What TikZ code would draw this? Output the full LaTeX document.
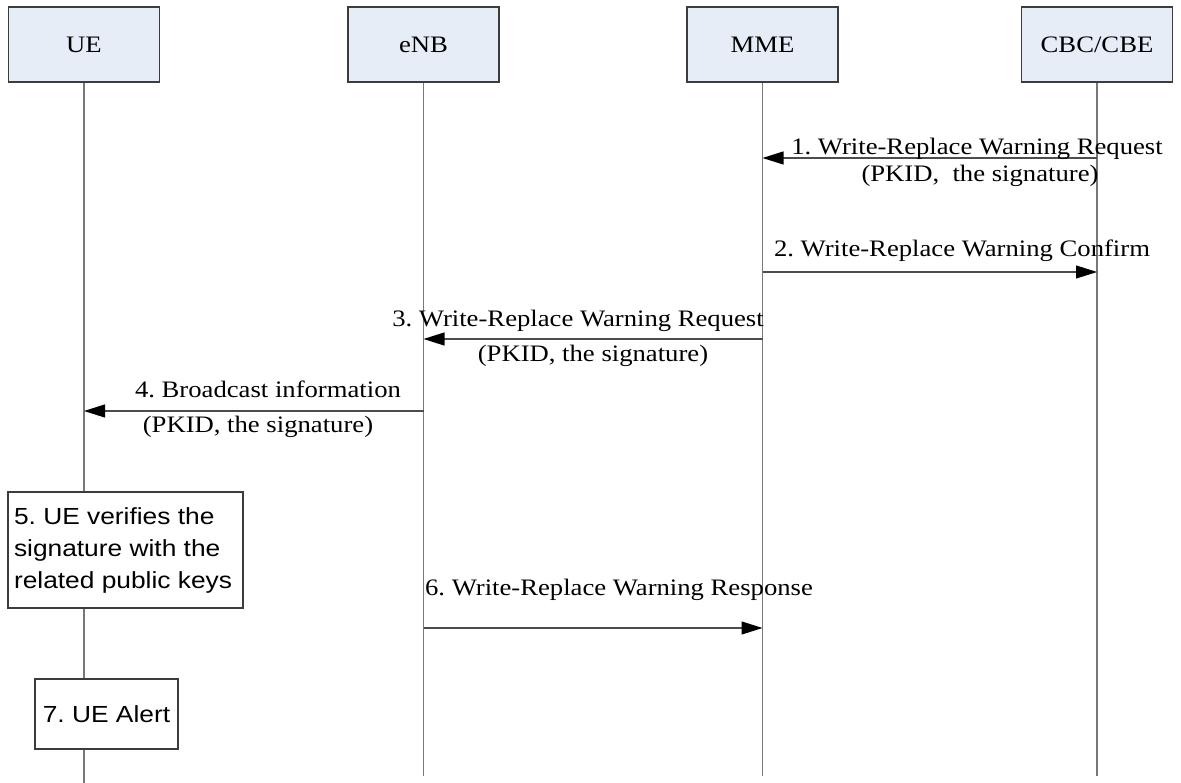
\documentclass[tikz,border=0pt]{standalone}
\usepackage{fontspec}
\setmainfont{Liberation Serif}[FakeStretch=1.13]
\newfontfamily\arialfont{Liberation Sans}[FakeStretch=1.13]
\usetikzlibrary{arrows.meta, positioning}
\definecolor{xHead}{RGB}{230,237,247}
\definecolor{xLine}{RGB}{120,120,120}
\definecolor{xEdge}{RGB}{60,60,60}
\tikzset{
  entity/.style={draw=xEdge, fill=xHead, line width=1.2pt, minimum width=151pt, minimum height=75pt,
                 font=\fontsize{23.6}{27}\selectfont},
  life/.style={draw=xLine, line width=1.3pt},
  action/.style={draw=xEdge, fill=white, line width=1.1pt, inner sep=0pt,
                 font=\arialfont\fontsize{23.3}{32}\selectfont},
  msg/.style={-{Triangle[length=21pt, width=13pt, color=black]}, draw=black!70, line width=1.1pt},
  lbl/.style={anchor=base, inner sep=0pt, font=\fontsize{23.6}{27}\selectfont},
}
\frenchspacing
\begin{document}
\begin{tikzpicture}[x=1pt, y=-1pt]
    \useasboundingbox (0,0) rectangle (1181,783);
    \node[entity] (ue)  at (84,44.5)     {UE};
    \node[entity] (enb) at (423.5,44.5)  {eNB};
    \node[entity] (mme) at (762.5,44.5)  {MME};
    \node[entity] (cbc) at (1097,44.5)   {CBC/CBE};
    % lifelines
    \draw[life] (ue.south)  -- (ue.south |- 0,783);
    \draw[life] (enb.south) -- (enb.south |- 0,776);
    \draw[life] (mme.south) -- (mme.south |- 0,776);
    \draw[life] (cbc.south) -- (cbc.south |- 0,776);
    % local actions at the UE
    \node[action, minimum width=235pt, minimum height=116pt] (verify) at (125.5,550)
      {\parbox{223pt}{5. UE verifies the\\signature with the\\related public keys}};
    \node[action, minimum width=143pt, minimum height=70pt] (alert) at (106.5,714) {7. UE Alert};
    % messages
    \draw[msg] (cbc |- 0,158) -- (mme |- 0,158);
    \node[lbl] (m1a) at (977,155) {1. Write-Replace Warning Request};
    \node[lbl] (m1b) at (980,182) {(PKID,\ \ the signature)};
    \draw[msg] (mme |- 0,272) -- (cbc |- 0,272);
    \node[lbl] (m2) at (962,257) {2. Write-Replace Warning Confirm};
    \draw[msg] (mme |- 0,339) -- (enb |- 0,339);
    \node[lbl] (m3a) at (578,327) {3. Write-Replace Warning Request};
    \node[lbl] (m3b) at (593,362) {(PKID, the signature)};
    \draw[msg] (enb |- 0,411) -- (ue |- 0,411);
    \node[lbl] (m4a) at (268,398) {4. Broadcast information};
    \node[lbl] (m4b) at (258,432) {(PKID, the signature)};
    \draw[msg] (enb |- 0,628) -- (mme |- 0,628);
    \node[lbl] (m6) at (619,595) {6. Write-Replace Warning Response};
  \end{tikzpicture}
\end{document}
